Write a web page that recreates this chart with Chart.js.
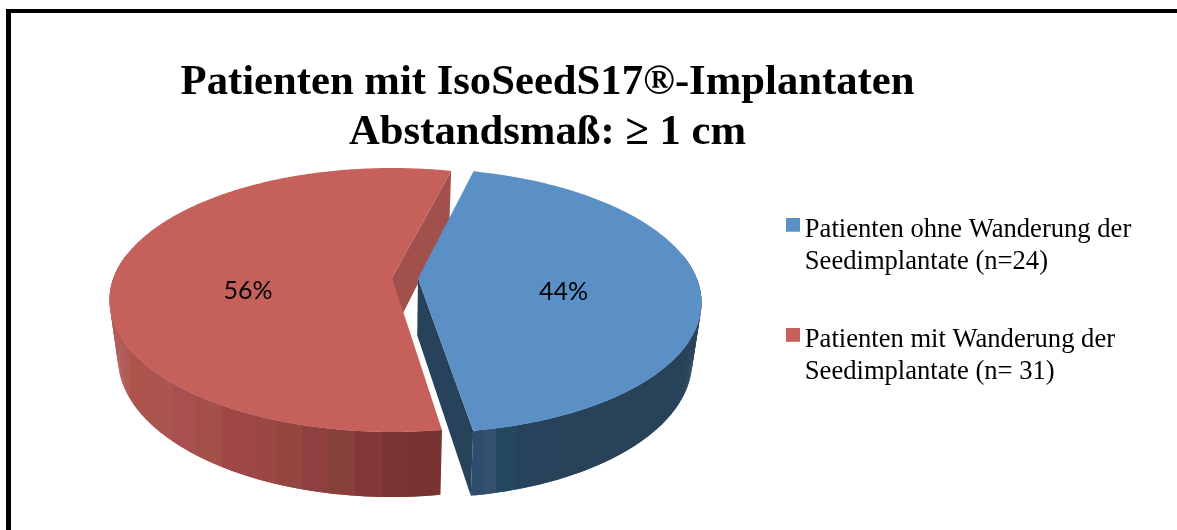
<!DOCTYPE html>
<html><head><meta charset="utf-8">
<style>
html,body{margin:0;padding:0;background:#fff;width:1177px;height:530px;overflow:hidden}
#frame{position:absolute;left:6px;top:9px;right:0;bottom:0;border-left:5px solid #000;border-top:4px solid #000}
#wrap{position:absolute;left:0;top:0;width:1177px;height:530px}
</style>
<script src="https://cdn.jsdelivr.net/npm/chart.js@4/dist/chart.umd.min.js"></script>
</head><body>
<div id="frame"></div>
<div id="wrap"><canvas id="c" width="1177" height="530"></canvas></div>
<script>
const categories = [
  ['Patienten ohne Wanderung der', 'Seedimplantate (n=24)'],
  ['Patienten mit Wanderung der', 'Seedimplantate (n= 31)']
];
const patients = [24, 31];
const explode = [26, 0];
const titleLines = ['Patienten mit IsoSeedS17®-Implantaten', 'Abstandsmaß: ≥ 1 cm'];
const faceColors = ['#5B90C6', '#C6605B'];
const innerWallColors = ['#27425B', '#A1504C'];
// side-wall shading (fraction across slice, colour)
const blueWallBands = [[0,'#2F4E6E'],[.05,'#35506F'],[.1,'#25485F'],[.19,'#27425C'],[.32,'#28425A'],[1,'#28425A']];
const redWallBands = [[0,'#B05B58'],[.06,'#AE544C'],[.12,'#AA5550'],[.19,'#A94F50'],[.26,'#A35049'],[.34,'#9E4745'],[.42,'#9B4744'],[.5,'#94473F'],[.58,'#8E4140'],[.66,'#88403A'],[.74,'#823937'],[.82,'#7C3533'],[.9,'#773430'],[1,'#702C2A']];
const wallBands = [blueWallBands, redWallBands];

// projection of the flat pie on the tilted view
const TILT = 0.168;
const CX = 392;
const TOP = {cy: 300, rx: 282.5, ry: 132};
const BOTTOM = {cy: 358, rx: 274, ry: 139};
const Q = Math.sqrt(1 - TILT * TILT);
function project(u, v, plane) {
  const d = 1 - TILT * v;
  return {
    x: CX + plane.rx * u * Q / d,
    y: plane.cy + plane.ry * (v - TILT) / d
  };
}
function rim(a0, a1, plane, shift) {
  const pts = [], n = Math.ceil((a1 - a0) / 0.01);
  for (let i = 0; i <= n; i++) {
    const a = a0 + (a1 - a0) * i / n;
    pts.push(project(Math.cos(a) + shift.u, Math.sin(a) + shift.v, plane));
  }
  return pts;
}
function poly(ctx, pts, fill) {
  ctx.beginPath();
  pts.forEach((p, i) => i ? ctx.lineTo(p.x, p.y) : ctx.moveTo(p.x, p.y));
  ctx.closePath();
  ctx.fillStyle = fill;
  ctx.fill();
}
const pie3d = {
  id: 'pie3d',
  afterLayout(chart) {
    const t = chart.titleBlock, l = chart.legend;
    t.left = 0; t.right = 1095; t.top = 57;
    const pad = l.options.labels.padding;
    l.left = 788.5 - pad; l.top = 216.4 - pad; l.right = 1177; l.bottom = 530;
  },
  beforeDatasetsDraw(chart) {
    const ctx = chart.ctx, meta = chart.getDatasetMeta(0);
    const total = patients.reduce((a, b) => a + b, 0);
    [1, 0].forEach(i => {
      const arc = meta.data[i];
      const a0 = arc.startAngle, a1 = arc.endAngle, mid = (a0 + a1) / 2;
      const shift = {u: Math.cos(mid) * explode[i] / (TOP.rx * Q), v: Math.sin(mid) * explode[i] / (TOP.rx * Q)};
      const topRim = rim(a0, a1, TOP, shift), botRim = rim(a0, a1, BOTTOM, shift);
      const apexT = project(shift.u, shift.v, TOP), apexB = project(shift.u, shift.v, BOTTOM);
      // outer wall, only the part facing the viewer
      const front = [], frontB = [];
      topRim.forEach((p, k) => {
        const a = a0 + (a1 - a0) * k / (topRim.length - 1);
        if (Math.sin(a) > -0.2) { front.push(p); frontB.push(botRim[k]); }
      });
      const xs = front.map(p => p.x);
      const g = ctx.createLinearGradient(Math.min(...xs), 0, Math.max(...xs), 0);
      const bands = wallBands[i];
      bands.forEach((b, k) => {
        g.addColorStop(b[0], b[1]);
        if (k < bands.length - 1) g.addColorStop(Math.max(b[0], bands[k + 1][0] - 0.002), b[1]);
      });
      for (let k = 0; k + 2 < front.length; k++) {
        poly(ctx, [front[k], front[k + 2], frontB[k + 2], frontB[k]], g);
      }
      // cut face turned to the viewer
      poly(ctx, [apexT, topRim[topRim.length - 1], botRim[botRim.length - 1], apexB], innerWallColors[i]);
      // top face
      poly(ctx, [apexT].concat(topRim), faceColors[i]);
      // percentage label
      const lp = project(0.52 * Math.cos(mid) + shift.u, 0.52 * Math.sin(mid) + shift.v, TOP);
      ctx.fillStyle = '#000';
      ctx.font = '25px Lato, "Open Sans", sans-serif';
      ctx.textAlign = 'center';
      ctx.textBaseline = 'middle';
      ctx.fillText(Math.round(patients[i] / total * 100) + '%', lp.x, apexT.y + 13.5);
    });
    return false;
  }
};
function marker(color) {
  // transparent margin lets the square sit close to its text
  const m = document.createElement('canvas');
  m.width = 20; m.height = 24;
  const c = m.getContext('2d');
  c.fillStyle = color; c.fillRect(6, 0, 14, 14);
  return m;
}
new Chart(document.getElementById('c'), {
  type: 'pie',
  data: {
    labels: categories,
    datasets: [{data: patients, backgroundColor: faceColors, borderWidth: 0}]
  },
  options: {
    responsive: false,
    animation: false,
    rotation: 14.3,
    plugins: {
      tooltip: {enabled: false},
      title: {
        display: true,
        text: titleLines,
        color: '#000',
        padding: 0,
        font: {family: '"Liberation Serif"', size: 42.7, weight: 'bold', lineHeight: 1.194}
      },
      legend: {
        position: 'right',
        align: 'start',
        labels: {
          color: '#000',
          padding: 45.5,
          usePointStyle: true,
          pointStyleWidth: 3,
          boxHeight: 14,
          font: {family: '"Liberation Serif"', size: 26.6, lineHeight: 1.214},
          generateLabels: () => categories.map((text, i) => ({
            text, fillStyle: faceColors[i], strokeStyle: faceColors[i], lineWidth: 0,
            pointStyle: marker(faceColors[i]), index: i, hidden: false
          }))
        }
      }
    }
  },
  plugins: [pie3d]
});
</script>
</body></html>
